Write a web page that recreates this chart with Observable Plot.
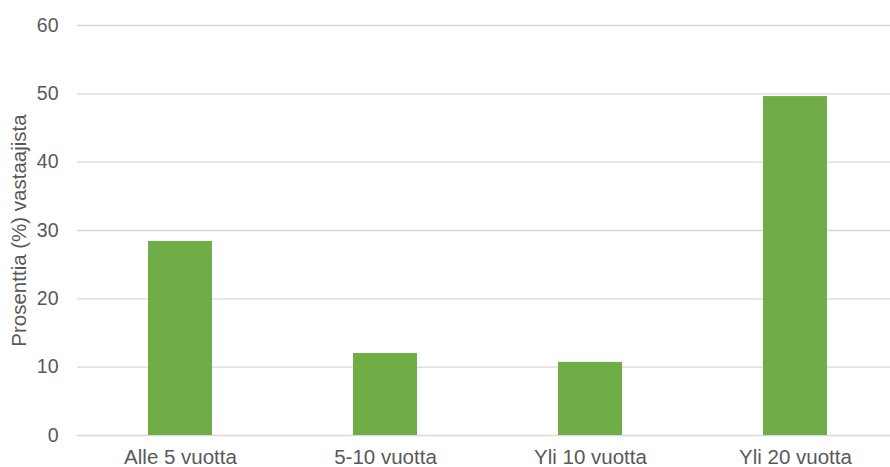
<!DOCTYPE html>
<html>
<head>
<meta charset="utf-8">
<script src="https://cdn.jsdelivr.net/npm/d3@7"></script>
<script src="https://cdn.jsdelivr.net/npm/@observablehq/plot@0.6"></script>
<style>
  html, body { margin: 0; padding: 0; background: #fff; }
  #chart svg { display: block; }
</style>
</head>
<body>
<div id="chart"></div>
<script>
const categories = ["Alle 5 vuotta", "5-10 vuotta", "Yli 10 vuotta", "Yli 20 vuotta"];
const values = [28.4, 12.0, 10.7, 49.6];
const yTicks = [0, 10, 20, 30, 40, 50, 60];
const yTitle = "Prosenttia (%) vastaajista";

const data = categories.map((c, i) => ({cat: c, val: values[i]}));

const chart = Plot.plot({
  width: 890,
  height: 467,
  marginLeft: 77,
  marginRight: 0,
  marginTop: 25,
  marginBottom: 32,
  style: {fontFamily: "'Liberation Sans', Arial, sans-serif", color: "#595959", background: "#fff"},
  x: {domain: categories, range: [77, 899], paddingInner: 0.686, paddingOuter: 0.343},
  y: {domain: [0, 60]},
  marks: [
    Plot.gridY(yTicks, {stroke: "#D9D9D9", strokeOpacity: 1, strokeWidth: 1.3}),
    Plot.barY(data, {x: "cat", y: "val", fill: "#70AD47"}),
    Plot.axisY(yTicks, {tickSize: 0, tickPadding: 19, fontSize: 19.5, fill: "#595959", label: null}),
    Plot.axisY({tickSize: 0, ticks: [], fontSize: 20.5, fill: "#595959",
      label: yTitle, labelAnchor: "center", labelArrow: "none", labelOffset: 66}),
    Plot.axisX({tickSize: 0, tickPadding: 14, fontSize: 20.5, fill: "#595959", label: null})
  ]
});
document.getElementById("chart").appendChild(chart);
</script>
</body>
</html>
